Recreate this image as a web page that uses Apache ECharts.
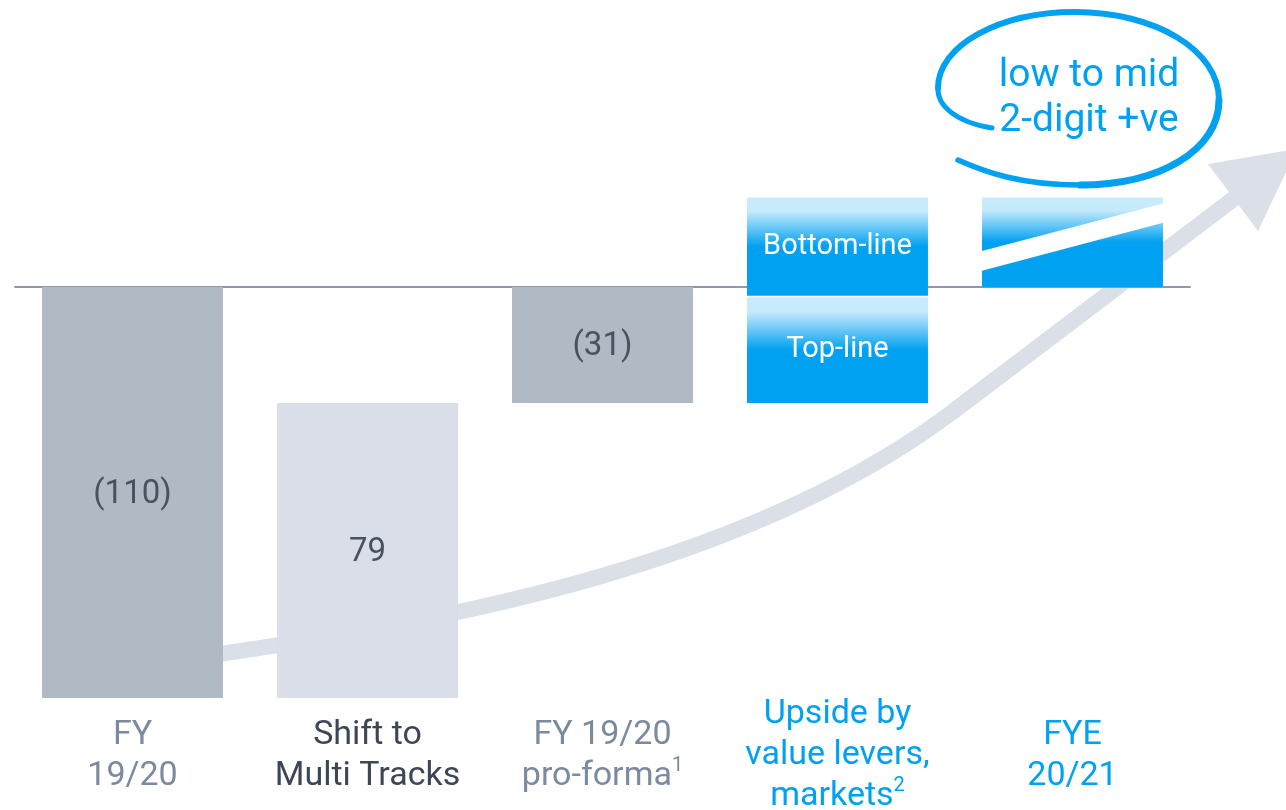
<!DOCTYPE html>
<html>
<head>
<meta charset="utf-8">
<script src="https://cdn.jsdelivr.net/npm/echarts@6/dist/echarts.min.js"></script>
<style>
html, body { margin: 0; padding: 0; background: #fff; }
#chart { width: 1286px; height: 810px; }
</style>
</head>
<body>
<div id="chart"></div>
<script>
// categories along the bottom
var categories = ['FY\n19/20', 'Shift to\nMulti Tracks', 'FY 19/20\npro-forma¹', 'Upside by\nvalue levers,\nmarkets²', 'FYE\n20/21'];

// waterfall blocks: which category, bottom value, top value, text inside
var blockCat = [0, 1, 2, 3, 3, 4];
var blockLow = [-110, -110, -31, -31, -2.3, 0];
var blockHigh = [0, -31, 0, -2.7, 24, 24];
var blockText = ['(110)', '79', '(31)', 'Top-line', 'Bottom-line', ''];

var FONT = 'Roboto, "Noto Sans", sans-serif';
var BLUE = '#00a1f1';
var ARROW = '#dadfe8';

var blockData = blockCat.map(function (c, i) {
    return [c, blockLow[i], blockHigh[i], blockText[i]];
});

function blueFill() {
    return new echarts.graphic.LinearGradient(0, 0, 0, 1, [
        { offset: 0, color: '#c8ecfd' },
        { offset: 0.14, color: '#c5eafc' },
        { offset: 0.5, color: BLUE },
        { offset: 1, color: BLUE }
    ]);
}

function renderBlock(params, api) {
    var c = api.value(0);
    var top = api.coord([c, api.value(2)]);
    var bottom = api.coord([c, api.value(1)]);
    var w = api.size([1, 0])[0] * 0.77;
    var x = top[0] - w / 2;
    var y = top[1];
    var h = bottom[1] - top[1];
    var fill = '#b0bac5';
    var textColor = '#4a5261';
    var fontSize = 33;
    if (c === 1) fill = '#d9dee8';
    if (c >= 3) { fill = blueFill(); textColor = '#fff'; fontSize = 29; }

    var children = [{
        type: 'rect',
        shape: { x: x, y: y, width: w, height: h },
        style: { fill: fill }
    }];
    if (c === 4) {
        // white slanted band across the target bar
        children.push({
            type: 'polygon',
            shape: { points: [
                [x - 1, y + h * 0.6], [x + w + 1, y + h * 0.065],
                [x + w + 1, y + h * 0.28], [x - 1, y + h * 0.82]
            ] },
            style: { fill: '#fff' }
        });
    }
    var txt = api.value(3);
    if (txt) {
        children.push({
            type: 'text',
            x: top[0], y: y + h / 2 + (c >= 3 ? 0 : 2),
            style: {
                text: txt, fill: textColor, fontSize: fontSize, fontFamily: FONT,
                align: 'center', verticalAlign: 'middle'
            }
        });
    }
    return { type: 'group', children: children };
}

var chart = echarts.init(document.getElementById('chart'));

chart.setOption({
    animation: false,
    backgroundColor: '#fff',
    grid: { left: 15, right: 96, top: 63, bottom: 112, containLabel: false, outerBoundsMode: 'none' },
    xAxis: [{
        type: 'category',
        data: categories.map(function (v, i) {
            var col = (i === 1) ? '#3d4655' : (i >= 3 ? BLUE : '#7b8a9e');
            var lines = v.split('\n').length;
            return { value: v, textStyle: { color: col, padding: [lines === 3 ? 0 : 21, 0, 0, 0] } };
        }),
        axisLine: { show: false, onZero: false },
        axisTick: { show: false },
        axisLabel: {
            interval: 0,
            fontSize: 34,
            lineHeight: 41,
            fontFamily: FONT,
            verticalAlign: 'top',
            margin: -4,
            formatter: function (v) {
                return v.replace('¹', '{supG|1}').replace('²', '{supB|2}');
            },
            rich: {
                supG: { fontSize: 20, lineHeight: 28, verticalAlign: 'top', color: '#7b8a9e', fontFamily: FONT },
                supB: { fontSize: 20, lineHeight: 28, verticalAlign: 'top', color: BLUE, fontFamily: FONT }
            }
        }
    }, {
        type: 'category',
        data: categories,
        position: 'bottom',
        axisLine: { show: true, onZero: true, lineStyle: { color: '#8e99a7', width: 2 } },
        axisTick: { show: false },
        axisLabel: { show: false }
    }],
    yAxis: {
        type: 'value',
        min: -110,
        max: 60,
        show: false
    },
    graphic: [
        // growth arrow behind the bars
        {
            type: 'bezierCurve',
            z: 0,
            shape: { x1: 205, y1: 656, cpx1: 455, cpy1: 621, cpx2: 755, cpy2: 562, x2: 955, y2: 410 },
            style: { stroke: ARROW, lineWidth: 16, fill: null, lineCap: 'round' }
        },
        {
            type: 'line',
            z: 0,
            shape: { x1: 955, y1: 410, x2: 1240, y2: 194 },
            style: { stroke: ARROW, lineWidth: 16, lineCap: 'round' }
        },
        {
            type: 'polygon',
            z: 0,
            shape: { points: [[1208, 164], [1258, 231], [1297, 149]] },
            style: { fill: ARROW }
        },
        // hand drawn loop round the target text
        { type: 'bezierCurve', z: 30, shape: { x1: 992, y1: 128, cpx1: 955, cpy1: 122, cpx2: 937, cpy2: 105, x2: 938, y2: 88 },
          style: { stroke: BLUE, lineWidth: 5, fill: null, lineCap: 'round' } },
        { type: 'bezierCurve', z: 30, shape: { x1: 938, y1: 88, cpx1: 938, cpy1: 45, cpx2: 1000, cpy2: 12, x2: 1075, y2: 12 },
          style: { stroke: BLUE, lineWidth: 6, fill: null, lineCap: 'round' } },
        { type: 'bezierCurve', z: 30, shape: { x1: 1075, y1: 12, cpx1: 1155, cpy1: 12, cpx2: 1219, cpy2: 50, x2: 1219, y2: 100 },
          style: { stroke: BLUE, lineWidth: 6, fill: null, lineCap: 'round' } },
        { type: 'bezierCurve', z: 30, shape: { x1: 1219, y1: 100, cpx1: 1219, cpy1: 150, cpx2: 1160, cpy2: 185, x2: 1080, y2: 185 },
          style: { stroke: BLUE, lineWidth: 7, fill: null, lineCap: 'round' } },
        { type: 'bezierCurve', z: 30, shape: { x1: 1080, y1: 185, cpx1: 1020, cpy1: 185, cpx2: 985, cpy2: 172, x2: 958, y2: 160 },
          style: { stroke: BLUE, lineWidth: 5.5, fill: null, lineCap: 'round' } },
        {
            type: 'text', z: 30, x: 1089, y: 76,
            style: { text: 'low to mid', fill: BLUE, fontSize: 39, fontFamily: FONT, align: 'center', verticalAlign: 'middle' }
        },
        {
            type: 'text', z: 30, x: 1089, y: 121,
            style: { text: '2-digit +ve', fill: BLUE, fontSize: 39, fontFamily: FONT, align: 'center', verticalAlign: 'middle' }
        }
    ],
    series: [{
        type: 'custom',
        z: 10,
        renderItem: renderBlock,
        encode: { x: 0, y: [1, 2] },
        data: blockData
    }]
});

window.addEventListener('resize', function () {
    chart.resize();
});
</script>
</body>
</html>
